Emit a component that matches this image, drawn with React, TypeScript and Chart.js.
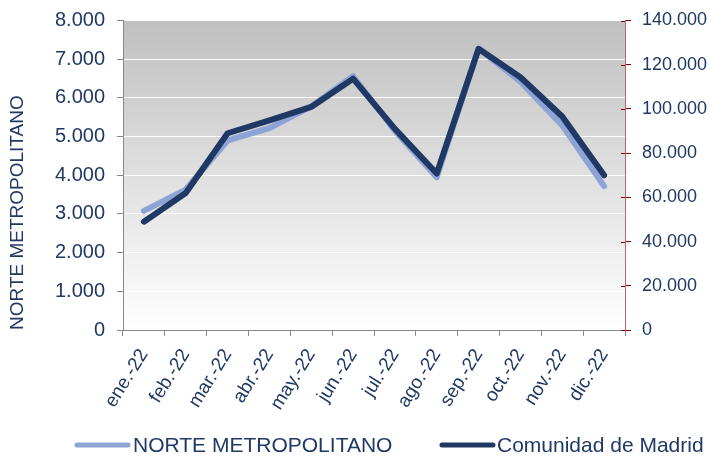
import React, { useEffect, useRef } from "react";
import { Chart, registerables } from "chart.js";

Chart.register(...registerables);

const months = ["ene.-22", "feb.-22", "mar.-22", "abr.-22", "may.-22", "jun.-22", "jul.-22", "ago.-22", "sep.-22", "oct.-22", "nov.-22", "dic.-22"];
const norteMetropolitano = [3080, 3630, 4900, 5220, 5780, 6560, 5150, 3950, 7270, 6420, 5290, 3720];
const comunidadMadrid = [49000, 62000, 89000, 94800, 100900, 113700, 91000, 70800, 127200, 114300, 96600, 70000];
const seriesNames = ["NORTE METROPOLITANO", "Comunidad de Madrid"];

const TEXT = "#203864";
const LIGHT = "#8ea3d6";
const DARK = "#1f3864";
const FONT = "'Liberation Sans', Arial, sans-serif";

const fmt = (v: number) => String(Math.round(v)).replace(/\B(?=(\d{3})+(?!\d))/g, ".");

const bgPlugin = {
  id: "bgGradient",
  beforeDraw(chart: any) {
    const { ctx, chartArea } = chart;
    if (!chartArea) return;
    const g = ctx.createLinearGradient(0, chartArea.top, 0, chartArea.bottom);
    g.addColorStop(0, "#c0c0c0");
    g.addColorStop(1, "#ffffff");
    ctx.save();
    ctx.fillStyle = g;
    ctx.fillRect(chartArea.left, chartArea.top, chartArea.right - chartArea.left, chartArea.bottom - chartArea.top);
    ctx.restore();
  },
};

const innerTicksPlugin = {
  id: "innerTicks",
  afterDraw(chart: any) {
    const s = chart.scales.y1;
    if (!s) return;
    const { ctx } = chart;
    ctx.save();
    ctx.strokeStyle = "#8b0000";
    ctx.lineWidth = 1;
    s.ticks.forEach((t: any) => {
      const y = Math.round(s.getPixelForValue(t.value)) + 0.5;
      ctx.beginPath();
      ctx.moveTo(s.left - 4, y);
      ctx.lineTo(s.left, y);
      ctx.stroke();
    });
    ctx.restore();
  },
};

const legendPlugin = {
  id: "customLegend",
  afterDraw(chart: any) {
    const { ctx } = chart;
    const items = [
      { x1: 77, x2: 128, tx: 133, color: LIGHT, label: seriesNames[0] },
      { x1: 442, x2: 493, tx: 497, color: DARK, label: seriesNames[1] },
    ];
    const y = 445;
    ctx.save();
    items.forEach((it) => {
      ctx.strokeStyle = it.color;
      ctx.lineWidth = 5;
      ctx.lineCap = "round";
      ctx.beginPath();
      ctx.moveTo(it.x1, y);
      ctx.lineTo(it.x2, y);
      ctx.stroke();
      ctx.fillStyle = TEXT;
      ctx.font = `21px ${FONT}`;
      ctx.textBaseline = "middle";
      ctx.textAlign = "left";
      ctx.fillText(it.label, it.tx, y + 1);
    });
    ctx.restore();
  },
};

export default function App() {
  const ref = useRef<HTMLCanvasElement | null>(null);

  useEffect(() => {
    document.body.style.margin = "0";
    if (!ref.current) return;
    const chart = new Chart(ref.current, {
      type: "line",
      data: {
        labels: months,
        datasets: [
          {
            label: seriesNames[0],
            data: norteMetropolitano,
            yAxisID: "y",
            borderColor: LIGHT,
            backgroundColor: LIGHT,
            borderWidth: 6,
            pointRadius: 0,
            tension: 0,
            borderCapStyle: "round",
            borderJoinStyle: "round",
            order: 2,
          },
          {
            label: seriesNames[1],
            data: comunidadMadrid,
            yAxisID: "y1",
            borderColor: DARK,
            backgroundColor: DARK,
            borderWidth: 6,
            pointRadius: 0,
            tension: 0,
            borderCapStyle: "round",
            borderJoinStyle: "round",
            order: 1,
          },
        ],
      },
      options: {
        animation: false,
        responsive: true,
        maintainAspectRatio: false,
        layout: { padding: { top: 0, bottom: 0, left: 0, right: 0 } },
        plugins: {
          legend: { display: false },
          tooltip: { enabled: false },
        },
        scales: {
          x: {
            offset: true,
            grid: { offset: true, drawOnChartArea: false, color: "#888", tickColor: "#888", tickLength: 6 },
            border: { color: "#888" },
            ticks: {
              color: TEXT,
              font: { family: FONT, size: 19 },
              minRotation: 58,
              maxRotation: 58,
              padding: 9,
            },
            afterFit(scale: any) {
              scale.height = 129;
            },
          },
          y: {
            position: "left",
            min: 0,
            max: 8000,
            ticks: {
              stepSize: 1000,
              color: TEXT,
              font: { family: FONT, size: 20, lineHeight: 0.85 },
              padding: 12,
              callback: (v: any) => fmt(Number(v)),
            },
            grid: { color: "#ffffff", lineWidth: 1, tickColor: "#888", tickLength: 6 },
            border: { color: "#888" },
            title: {
              display: true,
              text: seriesNames[0],
              align: "start",
              color: TEXT,
              font: { family: FONT, size: 19 },
              padding: { top: 6, bottom: 0 },
            },
            afterFit(scale: any) {
              scale.width = 123;
            },
          },
          y1: {
            position: "right",
            min: 0,
            max: 140000,
            ticks: {
              stepSize: 20000,
              color: TEXT,
              font: { family: FONT, size: 18, lineHeight: 0.85 },
              padding: 11,
              callback: (v: any) => fmt(Number(v)),
            },
            grid: { drawOnChartArea: false, tickColor: "#8b0000", tickLength: 6 },
            border: { color: "rgba(150,40,40,0.7)" },
            afterFit(scale: any) {
              scale.width = 85;
            },
          },
        },
      },
      plugins: [bgPlugin, innerTicksPlugin, legendPlugin],
    });
    return () => chart.destroy();
  }, []);

  return (
    <div style={{ position: "relative", width: 710, height: 459 }}>
      <canvas ref={ref} />
    </div>
  );
}
